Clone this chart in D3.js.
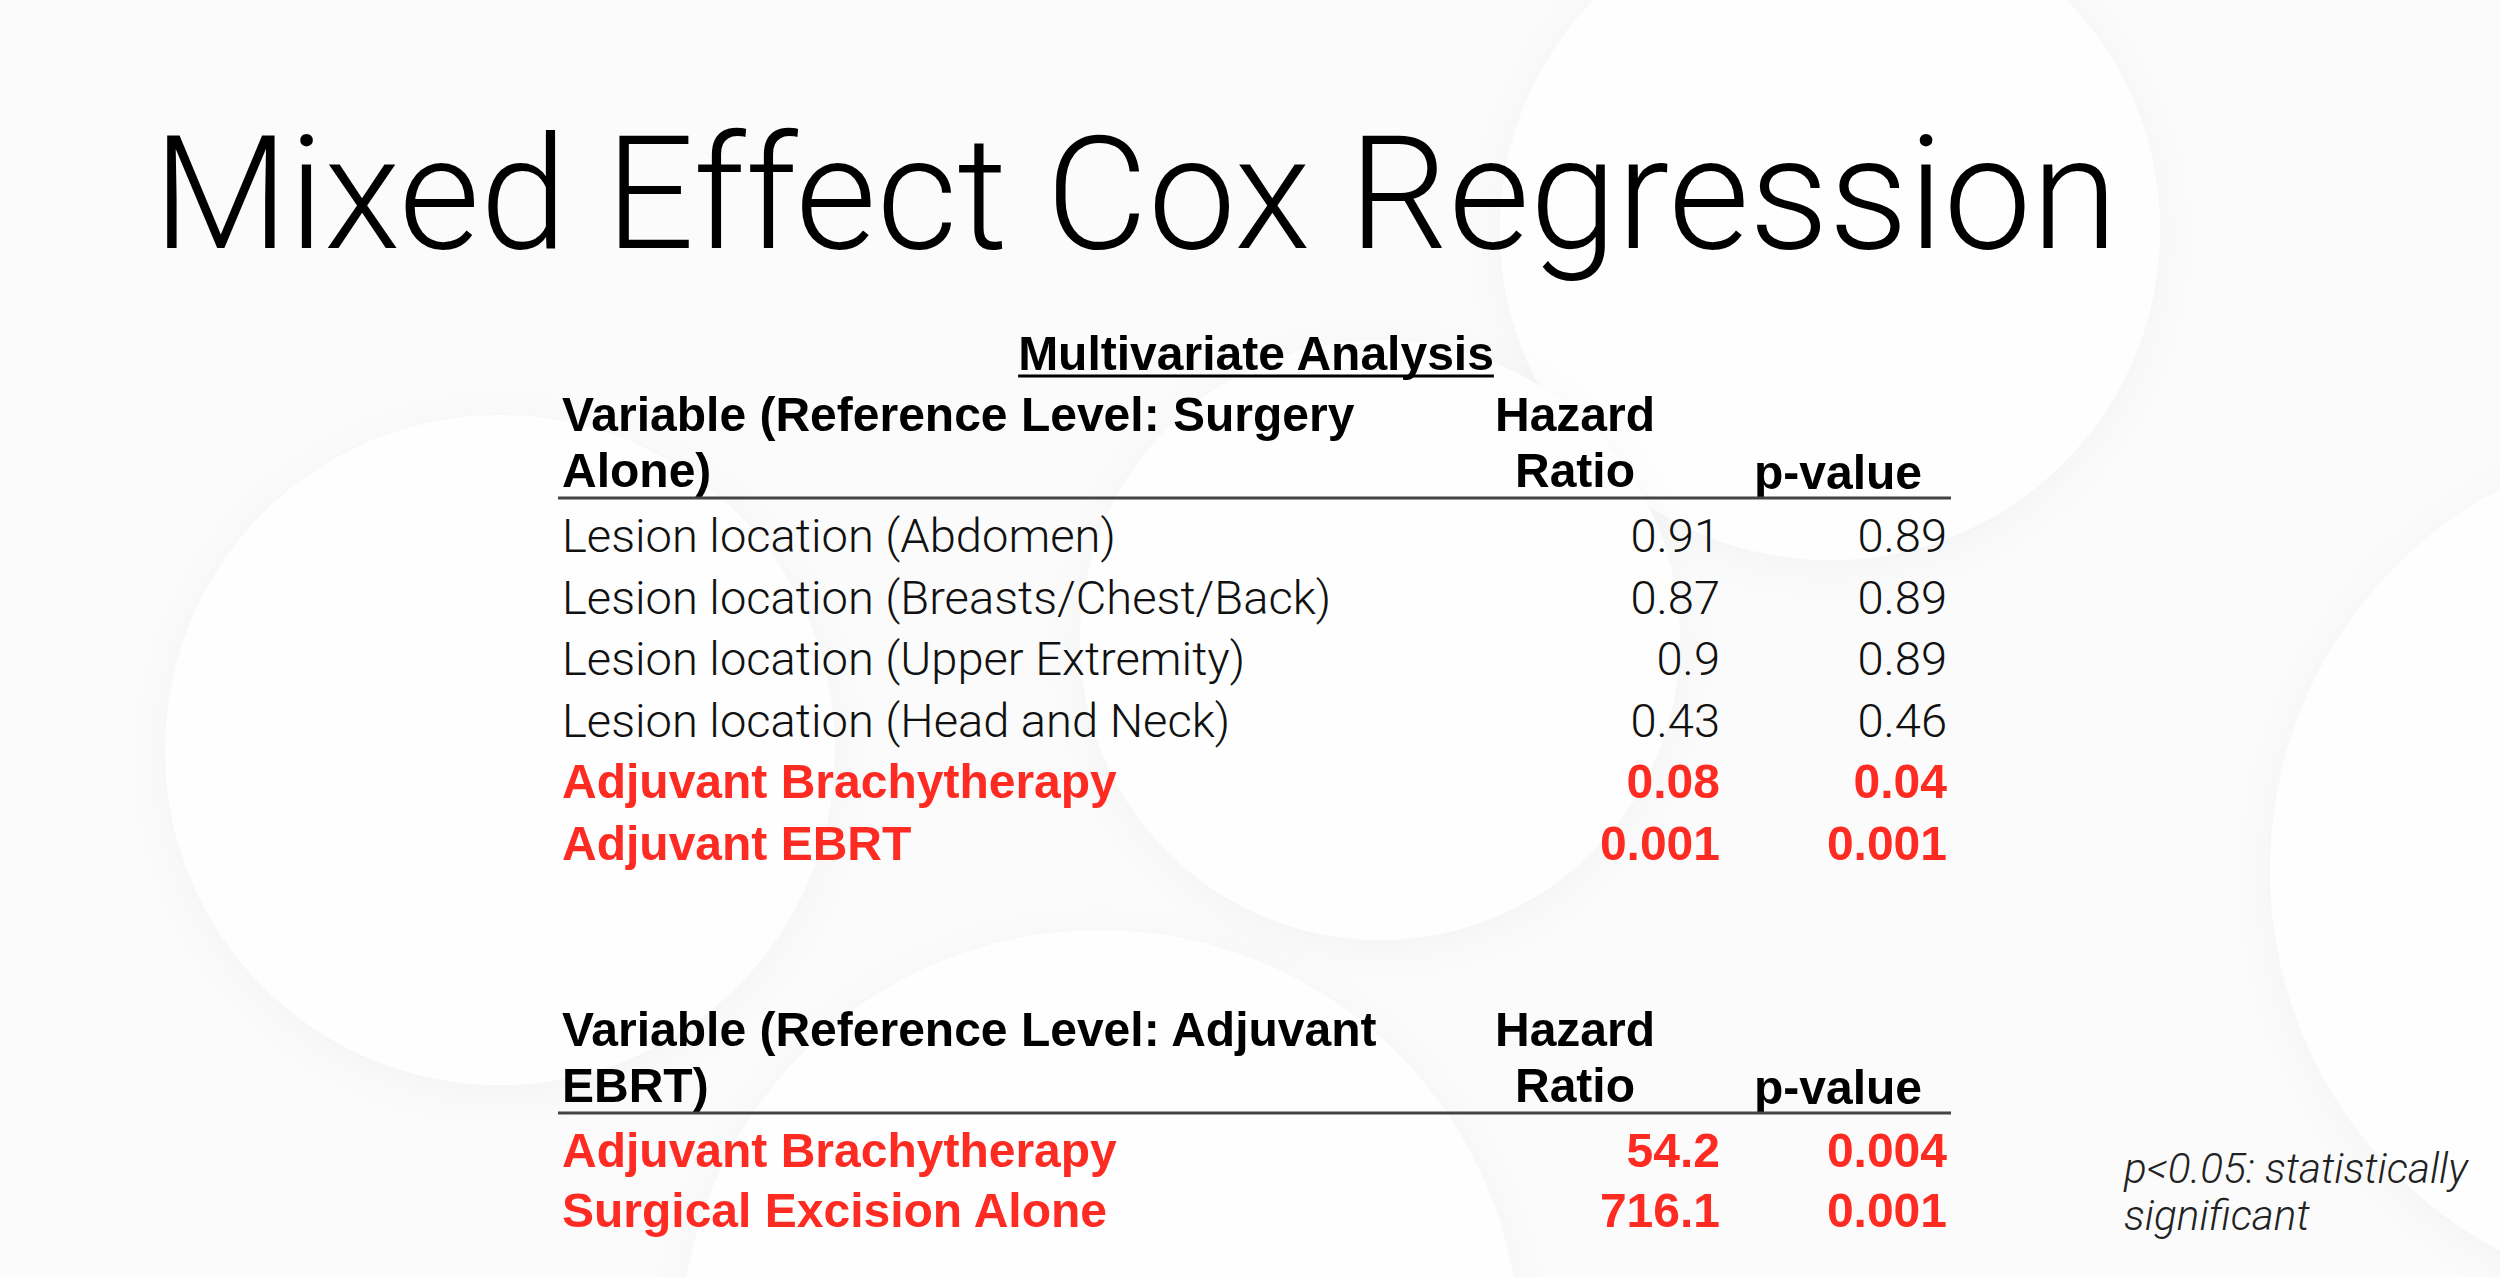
<!DOCTYPE html>
<html>
<head>
<meta charset="utf-8">
<script src="https://cdn.jsdelivr.net/npm/d3@7"></script>
<style>
  html, body { margin: 0; padding: 0; background: #fff; overflow: hidden; }
</style>
</head>
<body>
<script>
// slide text + table values
const titleText = 'Mixed Effect Cox Regression';
const subtitleText = 'Multivariate Analysis';
const colHeads = ['Hazard', 'Ratio', 'p-value'];

const refSurgery = ['Variable (Reference Level: Surgery', 'Alone)'];
const varsSurgery = [
  'Lesion location (Abdomen)',
  'Lesion location (Breasts/Chest/Back)',
  'Lesion location (Upper Extremity)',
  'Lesion location (Head and Neck)',
  'Adjuvant Brachytherapy',
  'Adjuvant EBRT'
];
const hrSurgery = [0.91, 0.87, 0.9, 0.43, 0.08, 0.001];
const pSurgery = [0.89, 0.89, 0.89, 0.46, 0.04, 0.001];

const refEbrt = ['Variable (Reference Level: Adjuvant', 'EBRT)'];
const varsEbrt = ['Adjuvant Brachytherapy', 'Surgical Excision Alone'];
const hrEbrt = [54.2, 716.1];
const pEbrt = [0.004, 0.001];

const noteLines = ['p<0.05: statistically', 'significant'];
const alpha = 0.05;

const width = 2500, height = 1277;
const red = '#fe2b22';
const lightFont = 'Roboto, "Helvetica Neue", Arial, sans-serif';
const boldFont = '"Liberation Sans", Arial, sans-serif';

const svg = d3.select('body').append('svg')
  .attr('width', width)
  .attr('height', height);

// very faint background discs
const defs = svg.append('defs');
const shadow = defs.append('filter').attr('id', 'soft')
  .attr('x', '-30%').attr('y', '-30%').attr('width', '160%').attr('height', '160%');
shadow.append('feDropShadow')
  .attr('dx', 0).attr('dy', 8)
  .attr('stdDeviation', 22)
  .attr('flood-color', '#000')
  .attr('flood-opacity', 0.03);

svg.append('rect').attr('width', width).attr('height', height).attr('fill', '#fbfbfb');
const discs = [
  {cx: 1830, cy: 230, r: 330},
  {cx: 2700, cy: 870, r: 430},
  {cx: 1100, cy: 1350, r: 420},
  {cx: 500, cy: 750, r: 335},
  {cx: 1380, cy: 640, r: 300}
];
svg.append('g').selectAll('circle')
  .data(discs)
  .join('circle')
  .attr('cx', d => d.cx).attr('cy', d => d.cy).attr('r', d => d.r)
  .attr('fill', '#fefefe')
  .attr('filter', 'url(#soft)');

// scale a text class so that a reference string takes the measured width
function fitSize(family, weight, style, str, target) {
  const t = svg.append('text')
    .attr('font-family', family).attr('font-weight', weight)
    .attr('font-style', style).attr('font-size', 100).text(str);
  const len = t.node().getComputedTextLength();
  t.remove();
  return 100 * target / len;
}

const titleSize = fitSize(lightFont, 300, 'normal', titleText, 1965);
const bodySize = fitSize(lightFont, 300, 'normal', varsSurgery[0], 554);
const boldSize = fitSize(boldFont, 700, 'normal', 'Adjuvant Brachytherapy', 555);
const noteSize = fitSize(lightFont, 300, 'italic', noteLines[0], 344);

svg.append('text')
  .attr('x', 153).attr('y', 248)
  .attr('font-family', lightFont).attr('font-weight', 300)
  .attr('font-size', titleSize)
  .attr('fill', '#000')
  .text(titleText);

const sub = svg.append('text')
  .attr('x', 1256).attr('y', 370)
  .attr('text-anchor', 'middle')
  .attr('font-family', boldFont).attr('font-weight', 700)
  .attr('font-size', boldSize)
  .attr('fill', '#000')
  .text(subtitleText);
const sb = sub.node().getBBox();
svg.append('line')
  .attr('x1', sb.x).attr('x2', sb.x + sb.width)
  .attr('y1', 376).attr('y2', 376)
  .attr('stroke', '#000').attr('stroke-width', 3);

const col = {left: 562, hrMid: 1575, hrRight: 1720, pMid: 1838, pRight: 1947, ruleL: 558, ruleR: 1951};

function drawTable(head, vars, hr, p, top, first, pitch) {
  const g = svg.append('g');
  const headY = d3.scalePoint().domain(d3.range(head.length)).range([top, top + 56]);

  g.selectAll('text.head')
    .data(head)
    .join('text')
    .attr('class', 'head')
    .attr('x', col.left)
    .attr('y', (d, i) => headY(i))
    .attr('font-family', boldFont).attr('font-weight', 700)
    .attr('font-size', boldSize)
    .text(d => d);

  g.append('text')
    .attr('x', col.hrMid).attr('y', headY(0))
    .attr('text-anchor', 'middle')
    .attr('font-family', boldFont).attr('font-weight', 700)
    .attr('font-size', boldSize)
    .text(colHeads[0]);
  g.append('text')
    .attr('x', col.hrMid).attr('y', headY(1))
    .attr('text-anchor', 'middle')
    .attr('font-family', boldFont).attr('font-weight', 700)
    .attr('font-size', boldSize)
    .text(colHeads[1]);
  g.append('text')
    .attr('x', col.pMid).attr('y', headY(1) + 2)
    .attr('text-anchor', 'middle')
    .attr('font-family', boldFont).attr('font-weight', 700)
    .attr('font-size', boldSize)
    .text(colHeads[2]);

  const ruleY = headY(1) + 11;
  g.append('line')
    .attr('x1', col.ruleL).attr('x2', col.ruleR)
    .attr('y1', ruleY).attr('y2', ruleY)
    .attr('stroke', '#444').attr('stroke-width', 3);

  const rows = vars.map((v, i) => ({name: v, hr: hr[i], p: p[i], sig: p[i] < alpha}));
  const y = d3.scalePoint()
    .domain(vars)
    .range([first, first + pitch * (vars.length - 1)]);

  const row = g.selectAll('g.row')
    .data(rows)
    .join('g')
    .attr('class', 'row')
    .attr('transform', d => `translate(0,${y(d.name)})`)
    .attr('fill', d => d.sig ? red : '#111')
    .attr('font-family', d => d.sig ? boldFont : lightFont)
    .attr('font-weight', d => d.sig ? 700 : 300)
    .attr('font-size', d => d.sig ? boldSize : bodySize);

  row.append('text').attr('x', col.left).text(d => d.name);
  row.append('text').attr('x', col.hrRight).attr('text-anchor', 'end').text(d => String(d.hr));
  row.append('text').attr('x', col.pRight).attr('text-anchor', 'end').text(d => String(d.p));
}

drawTable(refSurgery, varsSurgery, hrSurgery, pSurgery, 431, 552, 61.6);
drawTable(refEbrt, varsEbrt, hrEbrt, pEbrt, 1046, 1167, 60);

svg.append('g')
  .selectAll('text')
  .data(noteLines)
  .join('text')
  .attr('x', 2124)
  .attr('y', (d, i) => 1183 + i * 47)
  .attr('font-family', lightFont).attr('font-weight', 300)
  .attr('font-style', 'italic')
  .attr('font-size', noteSize)
  .attr('fill', '#222')
  .text(d => d);
</script>
</body>
</html>
